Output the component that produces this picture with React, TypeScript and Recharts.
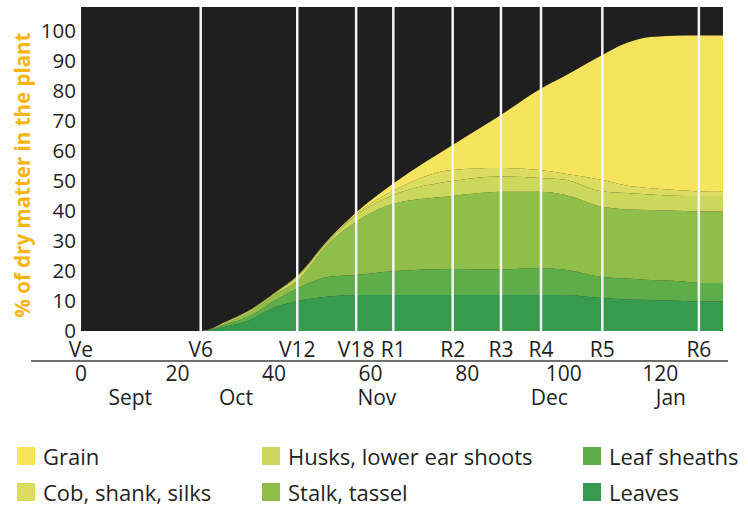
import React from "react";
import {
  AreaChart,
  Area,
  XAxis,
  YAxis,
  CartesianGrid,
  ReferenceLine,
} from "recharts";

// days after emergence
const days = [0, 25, 30, 35, 40, 45, 51, 57, 65, 77, 87, 95, 100, 108, 113, 118, 125, 128, 133];

// share of total dry matter per plant part (stacked, %)
const leaves = [0, 0, 1.5, 3.7, 7.8, 10, 11.4, 12, 12, 12, 12, 12, 12, 11, 10.5, 10.3, 10, 9.8, 9.8];
const leafSheaths = [0, 0, 0.7, 1.3, 2.2, 4.3, 6.6, 6.7, 8, 8.7, 8.5, 9, 8.5, 7, 7, 6.7, 6.5, 6.2, 6.2];
const stalkTassel = [0, 0, 0.5, 1.3, 2.0, 2.7, 10.7, 17.7, 22.5, 24.3, 25.9, 25.4, 25, 23.4, 23, 23.3, 23.5, 23.8, 23.8];
const husks = [0, 0, 0.3, 0.5, 0.4, 1.3, 0.8, 2.1, 3.0, 5.0, 5.1, 4.6, 5.0, 5.1, 5.5, 5.2, 5, 5.2, 5.2];
const cob = [0, 0, 0, 0.1, 0.1, 0.3, 0.3, 0.5, 1.5, 3.7, 2.8, 2.7, 2.0, 3.8, 2.5, 2.1, 1.8, 1.5, 1.4];
const grain = [0, 0, 0.1, 0.1, 0.1, 0.1, 0.2, 0.5, 2.5, 8.3, 17.7, 26.8, 32.3, 41.7, 47.5, 50.4, 51.7, 52, 52.1];

// growth stages
const stageNames = ["Ve", "V6", "V12", "V18", "R1", "R2", "R3", "R4", "R5", "R6"];
const stageDays = [0, 24.8, 44.8, 57, 64.7, 77, 87, 95.3, 108, 128];

const dayTicks = [0, 20, 40, 60, 80, 100, 120];
const monthNames = ["Sept", "Oct", "Nov", "Dec", "Jan"];
const monthDays = [10.2, 32.1, 61.3, 97, 122.2];
const yTicks = [0, 10, 20, 30, 40, 50, 60, 70, 80, 90, 100];

const series = [
  { key: "leaves", name: "Leaves", values: leaves, color: "#369a4f" },
  { key: "leafSheaths", name: "Leaf sheaths", values: leafSheaths, color: "#5dae4b" },
  { key: "stalkTassel", name: "Stalk, tassel", values: stalkTassel, color: "#8fbf4a" },
  { key: "husks", name: "Husks, lower ear shoots", values: husks, color: "#cbd85b" },
  { key: "cob", name: "Cob, shank, silks", values: cob, color: "#dcdd60" },
  { key: "grain", name: "Grain", values: grain, color: "#f6e45e" },
];

const legendOrder = ["grain", "husks", "leafSheaths", "cob", "stalkTassel", "leaves"];

const data = days.map((d, i) => {
  const row: Record<string, number> = { day: d };
  series.forEach((s) => (row[s.key] = s.values[i]));
  return row;
});

const FONT = "'Open Sans', Lato, sans-serif";
const TEXT = "#231f20";

const makeTick =
  (labelFor: (v: number) => string) =>
  ({ x, y, payload }: any) =>
    (
      <text
        x={x}
        y={y + 18}
        textAnchor="middle"
        dominantBaseline="central"
        fontSize={21}
        fontFamily={FONT}
        fill={TEXT}
      >
        {labelFor(payload.value)}
      </text>
    );

const StageTick = makeTick((v) => stageNames[stageDays.indexOf(v)]);
const DayTick = makeTick((v) => String(v));
const MonthTick = makeTick((v) => monthNames[monthDays.indexOf(v)]);

// bottom axes are stacked in id order, so ids are prefixed to keep stage > day > month
const axisProps = {
  dataKey: "day",
  type: "number" as const,
  domain: [0, 133],
  interval: 0,
  height: 24,
  tickSize: 0,
  tickMargin: 0,
  axisLine: false,
  tickLine: false,
};

export default function App() {
  return (
    <div
      style={{
        position: "absolute",
        left: 0,
        top: 0,
        width: 748,
        height: 506,
        background: "#fff",
        fontFamily: FONT,
      }}
    >
      <AreaChart
        width={748}
        height={410}
        data={data}
        margin={{ top: 7, right: 25, bottom: 7, left: 0 }}
      >
        <CartesianGrid fill="#1f1f1f" stroke="none" horizontal={false} vertical={false} />
        <XAxis xAxisId="a_stage" {...axisProps} ticks={stageDays} tick={<StageTick />} />
        <XAxis xAxisId="b_days" {...axisProps} ticks={dayTicks} tick={<DayTick />} />
        <XAxis xAxisId="c_months" {...axisProps} ticks={monthDays} tick={<MonthTick />} />
        <YAxis
          type="number"
          domain={[0, 108]}
          ticks={yTicks}
          interval={0}
          width={81}
          tickSize={0}
          tickMargin={5}
          axisLine={false}
          tickLine={false}
          tick={{ fontSize: 20.5, fill: TEXT, fontFamily: FONT }}
          label={{
            content: ({ viewBox }: any) => {
              const cy = viewBox.y + viewBox.height / 2 + 6;
              return (
                <text
                  x={22}
                  y={cy}
                  transform={`rotate(-90, 22, ${cy})`}
                  textAnchor="middle"
                  dominantBaseline="central"
                  fontSize={20.5}
                  fontWeight={700}
                  fontFamily={FONT}
                  fill="#f7b512"
                >
                  % of dry matter in the plant
                </text>
              );
            },
          }}
        />
        {series.map((s) => (
          <Area
            key={s.key}
            xAxisId="a_stage"
            type="monotone"
            dataKey={s.key}
            stackId="1"
            stroke="none"
            fill={s.color}
            fillOpacity={1}
            dot={false}
            activeDot={false}
            isAnimationActive={false}
          />
        ))}
        {stageDays.slice(1).map((d) => (
          <ReferenceLine
            key={d}
            xAxisId="a_stage"
            x={d}
            stroke="#f4f4f4"
            strokeWidth={2.5}
          />
        ))}
      </AreaChart>
      {/* rule between stage labels and day numbers */}
      <div
        style={{
          position: "absolute",
          left: 31,
          top: 360,
          width: 697,
          height: 2,
          background: "#707070",
        }}
      />
      {/* Legend */}
      <div
        style={{
          position: "absolute",
          left: 17,
          top: 447,
          display: "grid",
          gridTemplateColumns: "245px 321px 160px",
          rowGap: 18,
        }}
      >
        {legendOrder.map((k) => {
          const s = series.find((x) => x.key === k)!;
          return (
            <div key={k} style={{ display: "flex", alignItems: "center", height: 18 }}>
              <div style={{ width: 18, height: 18, background: s.color, flexShrink: 0 }} />
              <span
                style={{
                  marginLeft: 8,
                  fontSize: 22,
                  color: TEXT,
                  whiteSpace: "nowrap",
                  lineHeight: "18px",
                }}
              >
                {s.name}
              </span>
            </div>
          );
        })}
      </div>
    </div>
  );
}
